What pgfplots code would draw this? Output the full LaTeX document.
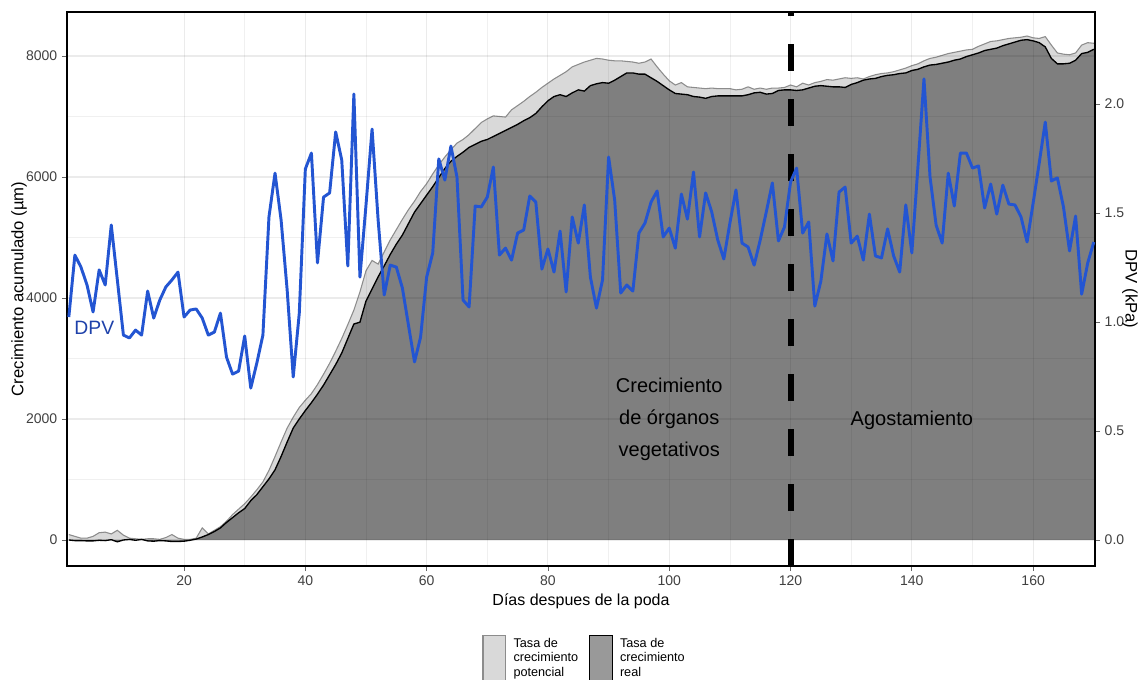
\documentclass[border=0pt]{standalone}
\usepackage{fontspec}
\setmainfont{Liberation Sans}
\usepackage{pgfplots}
\usepackage{pgfplotstable}
\pgfplotsset{compat=1.18}
\definecolor{potfill}{HTML}{D9D9D9}
\definecolor{potline}{HTML}{8C8C8C}
\definecolor{realfill}{HTML}{7F7F7F}
\definecolor{dpvblue}{RGB}{35,85,210}
\definecolor{dpvtext}{RGB}{30,65,170}

\pgfplotstableread{
day pot real
1 90 0
2 60 -10
3 30 -10
4 30 -15
5 60 -15
6 120 -5
7 130 -10
8 100 5
9 160 -30
10 80 0
11 30 10
12 20 -5
13 10 10
14 20 -15
15 20 -20
16 10 -10
17 40 -15
18 90 -25
19 30 -25
20 10 -20
21 10 -5
22 30 15
23 200 50
24 100 90
25 160 140
26 220 200
27 310 290
28 420 370
29 510 450
30 600 520
31 710 650
32 830 750
33 960 880
34 1150 1010
35 1380 1160
36 1620 1380
37 1850 1620
38 2030 1850
39 2190 2000
40 2310 2140
41 2420 2270
42 2570 2410
43 2740 2560
44 2920 2730
45 3120 2900
46 3330 3090
47 3560 3330
48 3800 3570
49 4100 3600
50 4450 3950
51 4620 4150
52 4560 4350
53 4760 4530
54 4960 4720
55 5130 4890
56 5300 5040
57 5460 5230
58 5600 5420
59 5760 5560
60 5890 5700
61 6050 5840
62 6200 5990
63 6330 6140
64 6450 6260
65 6560 6340
66 6620 6410
67 6700 6490
68 6800 6540
69 6900 6590
70 6960 6620
71 7010 6670
72 7000 6720
73 6990 6770
74 7110 6820
75 7180 6870
76 7250 6930
77 7330 6980
78 7400 7050
79 7480 7160
80 7550 7260
81 7620 7330
82 7680 7360
83 7740 7330
84 7820 7390
85 7860 7440
86 7900 7420
87 7930 7510
88 7960 7540
89 7950 7560
90 7930 7550
91 7920 7600
92 7920 7660
93 7910 7720
94 7900 7720
95 7880 7700
96 7900 7700
97 7950 7640
98 7820 7580
99 7700 7510
100 7590 7440
101 7520 7380
102 7560 7370
103 7490 7360
104 7480 7330
105 7470 7320
106 7460 7300
107 7470 7330
108 7460 7340
109 7460 7340
110 7460 7340
111 7440 7340
112 7450 7340
113 7490 7360
114 7450 7390
115 7470 7400
116 7450 7370
117 7470 7380
118 7470 7430
119 7480 7440
120 7520 7440
121 7490 7430
122 7550 7440
123 7520 7470
124 7560 7500
125 7580 7510
126 7610 7500
127 7600 7490
128 7620 7490
129 7640 7480
130 7630 7530
131 7640 7560
132 7620 7600
133 7660 7620
134 7690 7630
135 7710 7660
136 7720 7680
137 7740 7690
138 7770 7710
139 7800 7720
140 7840 7760
141 7870 7780
142 7920 7820
143 7960 7850
144 7980 7860
145 8010 7880
146 8040 7900
147 8060 7930
148 8080 7950
149 8100 7990
150 8110 8020
151 8160 8050
152 8200 8090
153 8240 8110
154 8250 8130
155 8270 8170
156 8290 8200
157 8300 8230
158 8310 8260
159 8330 8270
160 8300 8250
161 8290 8220
162 8320 8150
163 8180 7960
164 8050 7870
165 8030 7870
166 8020 7880
167 8050 7930
168 8180 8040
169 8220 8060
170 8210 8110
}\growth

\pgfplotstableread{
day dpv
1 1.023
2 1.307
3 1.252
4 1.170
5 1.046
6 1.239
7 1.170
8 1.445
9 1.193
10 0.940
11 0.927
12 0.963
13 0.940
14 1.142
15 1.018
16 1.101
17 1.161
18 1.193
19 1.229
20 1.023
21 1.055
22 1.060
23 1.018
24 0.940
25 0.954
26 1.041
27 0.839
28 0.761
29 0.775
30 0.936
31 0.697
32 0.812
33 0.940
34 1.482
35 1.683
36 1.468
37 1.147
38 0.748
39 1.041
40 1.702
41 1.775
42 1.271
43 1.573
44 1.592
45 1.872
46 1.743
47 1.257
48 2.046
49 1.206
50 1.537
51 1.885
52 1.468
53 1.124
54 1.261
55 1.252
56 1.156
57 0.986
58 0.817
59 0.931
60 1.206
61 1.317
62 1.748
63 1.651
64 1.807
65 1.665
66 1.101
67 1.069
68 1.532
69 1.528
70 1.573
71 1.711
72 1.307
73 1.339
74 1.284
75 1.408
76 1.422
77 1.578
78 1.550
79 1.243
80 1.335
81 1.229
82 1.417
83 1.138
84 1.482
85 1.362
86 1.537
87 1.206
88 1.064
89 1.193
90 1.757
91 1.560
92 1.133
93 1.170
94 1.142
95 1.408
96 1.454
97 1.550
98 1.601
99 1.390
100 1.431
101 1.339
102 1.587
103 1.472
104 1.688
105 1.390
106 1.592
107 1.505
108 1.376
109 1.289
110 1.454
111 1.606
112 1.362
113 1.344
114 1.261
115 1.376
116 1.505
117 1.638
118 1.372
119 1.436
120 1.642
121 1.706
122 1.408
123 1.459
124 1.073
125 1.188
126 1.404
127 1.280
128 1.596
129 1.619
130 1.362
131 1.394
132 1.284
133 1.495
134 1.303
135 1.294
136 1.427
137 1.303
138 1.229
139 1.537
140 1.317
141 1.711
142 2.115
143 1.665
144 1.445
145 1.362
146 1.683
147 1.532
148 1.775
149 1.775
150 1.706
151 1.716
152 1.523
153 1.633
154 1.495
155 1.628
156 1.541
157 1.537
158 1.482
159 1.367
160 1.546
161 1.729
162 1.917
163 1.647
164 1.661
165 1.528
166 1.326
167 1.486
168 1.128
169 1.271
170 1.367
}\dpvdata

\begin{document}
\begin{tikzpicture}
\begin{axis}[name=ax, scale only axis, width=771pt, height=415.5pt,
  xmin=0.7, xmax=170.2, ymin=-430, ymax=8727,
  axis on top,
  xtick={20,40,...,160}, ytick={0,2000,...,8000},
  minor x tick num=1, minor y tick num=1,
  grid=both,
  major grid style={black, opacity=0.08, line width=0.8pt},
  minor grid style={black, opacity=0.06, line width=0.5pt},
  tick align=outside, major tick length=3.75pt, minor tick length=0pt,
  xtick pos=left, ytick pos=left,
  tick style={black!60, line width=0.6pt},
  axis line style={black, line width=1.6pt},
  ticklabel style={font=\fontsize{10.5}{12}\selectfont, text=black!75},
  /pgf/number format/assume math mode=true,
  /pgf/number format/set thousands separator={},
  xlabel={Días despues de la poda},
  ylabel={Crecimiento acumulado (µm)},
  every axis x label/.style={at={(axis description cs:0.5,-0.063)}, anchor=center, font=\fontsize{12}{14}\selectfont},
  every axis y label/.style={at={(axis description cs:-0.0467,0.5)}, anchor=center, rotate=90, font=\fontsize{12.5}{14}\selectfont},
  legend columns=2,
  legend style={at={(axis description cs:0.4,-0.119)}, anchor=north west, draw=none, fill=none,
    font=\fontsize{9.5}{10.9}\selectfont, cells={anchor=west, align=left},
    /tikz/every odd column/.append style={column sep=3.5pt},
    /tikz/every even column/.append style={column sep=6pt}},
]
\addplot[fill=potfill, draw=none,
  legend image code/.code={\draw[fill=potfill, draw=potline, line width=0.8pt] (0pt,-17pt) rectangle (17pt,17pt);}]
  table[x=day, y=pot]{\growth} \closedcycle;
\addlegendentry{Tasa de\\crecimiento\\potencial}
\addplot[draw=potline, line width=0.8pt, forget plot] table[x=day, y=pot]{\growth};
\addplot[fill=realfill, draw=none,
  legend image code/.code={\draw[fill=black!40, draw=black, line width=0.8pt] (0pt,-17pt) rectangle (17pt,17pt);}]
  table[x=day, y=real]{\growth} \closedcycle;
\addlegendentry{Tasa de\\crecimiento\\real}
\addplot[draw=black, line width=1pt, forget plot] table[x=day, y=real]{\growth};
\addplot[black, line width=4.5pt, dash pattern=on 20.25pt off 21pt, forget plot] coordinates {(120,-430) (120,8727)};
\node[font=\fontsize{15}{24}\selectfont, align=center] at (axis cs:100,2000) {Crecimiento\\de órganos\\vegetativos};
\node[font=\fontsize{15}{18}\selectfont] at (axis cs:140,1970) {Agostamiento};
\node[font=\fontsize{14.5}{17}\selectfont, text=dpvtext] at (axis cs:5.2,3500) {DPV};
\end{axis}
\begin{axis}[scale only axis, width=771pt, height=415.5pt,
  xmin=0.7, xmax=170.2, ymin=-0.119, ymax=2.422,
  axis x line=none, axis y line*=right,
  ytick={0,0.5,1.0,1.5,2.0},
  tick align=outside, major tick length=3.75pt,
  tick style={black!60, line width=0.6pt},
  axis line style={black, line width=1.6pt},
  yticklabel style={font=\fontsize{10.5}{12}\selectfont, text=black!75,
    /pgf/number format/.cd, fixed, fixed zerofill, precision=1, assume math mode=true},
  ylabel={DPV (kPa)},
  every axis y label/.style={at={(axis description cs:1.034,0.5)}, anchor=center, rotate=-90, font=\fontsize{12.5}{14}\selectfont},
]
\addplot[dpvblue, line width=2.2pt, line join=round] table[x=day, y=dpv]{\dpvdata};
\end{axis}
\pgfresetboundingbox
\path[use as bounding box] ([xshift=-50.25pt,yshift=-84.75pt]ax.south west) rectangle ([xshift=35.25pt,yshift=9pt]ax.north east);
\end{tikzpicture}
\end{document}
